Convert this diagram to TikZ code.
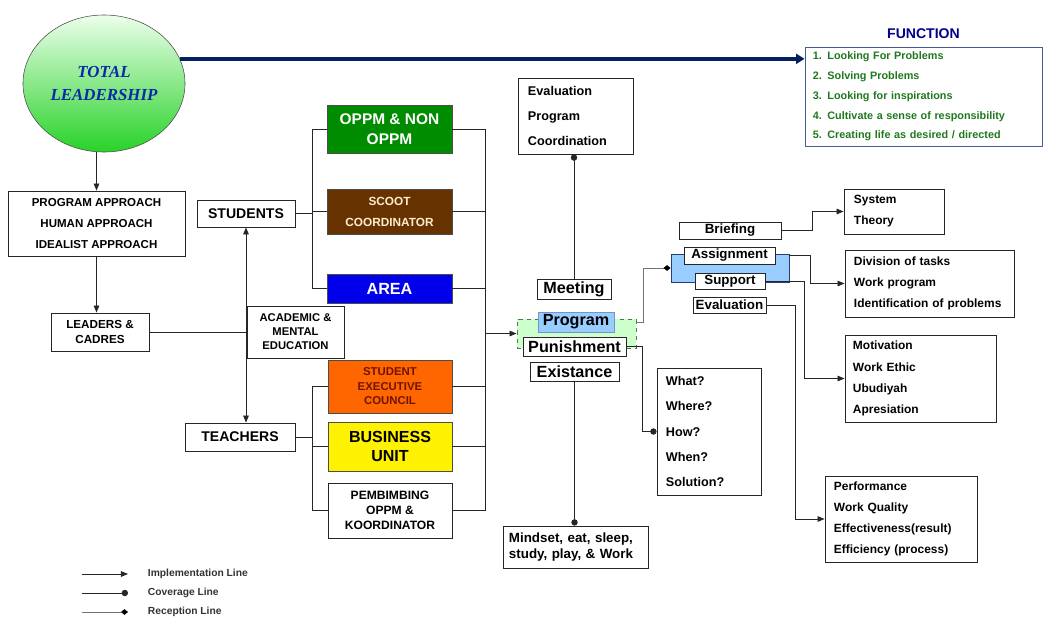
\documentclass[tikz,border=0pt]{standalone}
\usepackage{fontspec}
\setmainfont{Liberation Sans}
\newfontfamily\tlfont{Liberation Serif}
\usetikzlibrary{arrows.meta,shapes.geometric}

\definecolor{navyline}{RGB}{0,32,96}
\definecolor{functitle}{RGB}{0,0,140}
\definecolor{funcgreen}{RGB}{30,120,30}
\definecolor{funcborder}{RGB}{70,90,150}
\definecolor{tlblue}{RGB}{10,40,170}
\definecolor{oppmgreen}{RGB}{0,140,0}
\definecolor{scootbrown}{RGB}{102,51,0}
\definecolor{scoottext}{RGB}{255,235,205}
\definecolor{areablue}{RGB}{0,0,235}
\definecolor{secorange}{RGB}{255,102,0}
\definecolor{sectext}{RGB}{110,20,0}
\definecolor{progblue}{RGB}{153,204,255}
\definecolor{progborder}{RGB}{110,150,200}
\definecolor{asborder}{RGB}{40,60,120}
\definecolor{grpgreen}{RGB}{204,255,204}
\definecolor{grpborder}{RGB}{80,120,80}

\begin{document}
\begin{tikzpicture}[x=0.025cm,y=-0.025cm,>={Triangle[length=5pt,width=4pt]},
    box/.style={draw=black!85,line width=0.6pt,inner sep=0pt,align=center},
    lbox/.style={draw=black!85,line width=0.6pt,inner ysep=0pt,align=left},
    impl/.style={->,line width=0.6pt,black!85},
    cover/.style={-{Circle[length=4.5pt]},line width=0.6pt,black!85},
    recep/.style={-{Diamond[black,length=5pt,width=4pt]},line width=0.4pt,black!55},
    plain/.style={line width=0.6pt,black!85}]
%    \useasboundingbox[fill=white] (0,0) rectangle (1047,619);
    \useasboundingbox (0,0) rectangle (1047,619);

    \node[ellipse,draw=black!70,top color={rgb,255:red,235;green,255;blue,235},bottom color={rgb,255:red,40;green,210;blue,40},
          minimum width=4.05cm,minimum height=3.425cm,inner sep=0pt,align=center,text=tlblue,
          font=\tlfont\fontsize{12}{16}\selectfont\bfseries\itshape] (tl) at (104,83.5) {TOTAL\\LEADERSHIP};
    \node[font=\fontsize{10}{12}\selectfont\bfseries,text=functitle] (ftitle) at (923.5,33.5) {FUNCTION};
    \node[lbox,draw=funcborder,text=funcgreen,text width=5.525cm,inner xsep=0.2cm,minimum height=2.475cm,
          font=\fontsize{7.7}{14.1}\selectfont\bfseries] (func) at (923.5,96.5)
          {1. Looking For Problems\\2. Solving Problems\\3. Looking for inspirations\\4. Cultivate a sense of responsibility\\5. Creating life as desired / directed};

    % left column
    \node[box,minimum width=4.425cm,minimum height=1.625cm,font=\fontsize{8.2}{15}\selectfont\bfseries] (appr) at (96.5,223.5) {PROGRAM APPROACH\\HUMAN APPROACH\\IDEALIST APPROACH};
    \node[box,minimum width=2.45cm,minimum height=0.95cm,font=\fontsize{8.3}{10}\selectfont\bfseries]   (lead)  at (100,332)   {LEADERS \&\\CADRES};
    \node[box,minimum width=2.45cm,minimum height=0.675cm,font=\fontsize{10}{12}\selectfont\bfseries]   (stud)  at (246,213.5) {STUDENTS};
    \node[box,minimum width=2.425cm,minimum height=1.3cm,font=\fontsize{8}{10}\selectfont\bfseries]     (acad)  at (295.5,332) {ACADEMIC \&\\MENTAL\\EDUCATION};
    \node[box,minimum width=2.75cm,minimum height=0.7cm,font=\fontsize{10}{12}\selectfont\bfseries]     (teach) at (240,437)   {TEACHERS};

    % coloured boxes
    \node[box,draw=black!70,fill=oppmgreen,text=white,minimum width=3.125cm,minimum height=1.2cm,font=\fontsize{11}{14}\selectfont\bfseries]     (oppm)  at (389.5,129)   {OPPM \& NON\\OPPM};
    \node[box,draw=black!70,fill=scootbrown,text=scoottext,minimum width=3.125cm,minimum height=1.125cm,font=\fontsize{8.4}{15}\selectfont\bfseries] (scoot) at (389.5,211.5) {SCOOT\\COORDINATOR};
    \node[box,draw=black!70,fill=areablue,text=white,minimum width=3.125cm,minimum height=0.725cm,font=\fontsize{11.5}{14}\selectfont\bfseries]   (area)  at (389.5,288.5) {AREA};
    \node[box,draw=black!70,fill=secorange,text=sectext,minimum width=3.1cm,minimum height=1.325cm,font=\fontsize{8.1}{10.3}\selectfont\bfseries]  (sec)   at (390,386.5)   {STUDENT\\EXECUTIVE\\COUNCIL};
    \node[box,draw=black!70,fill=yellow,minimum width=3.1cm,minimum height=1.225cm,font=\fontsize{11.4}{14}\selectfont\bfseries]                   (bu)    at (390,446.5)   {BUSINESS\\UNIT};
    \node[box,minimum width=3.1cm,minimum height=1.375cm,font=\fontsize{8.6}{10.6}\selectfont\bfseries]                                            (pemb)  at (390,510.5)   {PEMBIMBING\\OPPM \&\\KOORDINATOR};

    % centre column
    \node[lbox,text width=2.375cm,inner xsep=0.25cm,minimum height=1.9cm,font=\fontsize{9}{17.7}\selectfont\bfseries] (evalc) at (575.5,116) {Evaluation\\Program\\Coordination};
    \node[box,minimum width=1.85cm,minimum height=0.5cm,font=\fontsize{11.5}{13}\selectfont\bfseries] (meet) at (574,289) {Meeting};
    \node[box,draw=grpborder,dashed,fill=grpgreen,minimum width=2.975cm,minimum height=0.725cm] (grp) at (576.5,333.5) {};
    \node[box,draw=progborder,fill=progblue,minimum width=1.9cm,minimum height=0.5cm,font=\fontsize{11.5}{13}\selectfont\bfseries] (prog) at (576,322) {Program};
    \node[box,fill=white,minimum width=2.575cm,minimum height=0.475cm,font=\fontsize{11.5}{13}\selectfont\bfseries] (pun) at (574.5,346.5) {Punishment};
    \node[box,fill=white,minimum width=2.225cm,minimum height=0.475cm,font=\fontsize{11.5}{13}\selectfont\bfseries] (exist) at (574.5,371.5) {Existance};
    \node[lbox,text width=3.325cm,inner xsep=0.15cm,minimum height=1.05cm,font=\fontsize{9.5}{12}\selectfont\bfseries] (mind) at (575.5,547) {Mindset, eat, sleep,\\study, play, \& Work};
    \node[lbox,text width=2.15cm,inner xsep=0.225cm,minimum height=3.175cm,font=\fontsize{9}{18}\selectfont\bfseries] (what) at (709,431.5) {What?\\Where?\\How?\\When?\\Solution?};

    % right column
    \node[box,minimum width=2.55cm,minimum height=0.425cm,font=\fontsize{9.5}{11}\selectfont\bfseries] (brief) at (730,230.5) {Briefing};
    \node[box,draw=asborder,fill=progblue,minimum width=2.95cm,minimum height=0.7cm] (asgrp) at (730,268) {};
    \node[box,fill=white,minimum width=2.275cm,minimum height=0.425cm,font=\fontsize{9.5}{11}\selectfont\bfseries] (assign) at (729.5,255.5) {Assignment};
    \node[box,fill=white,minimum width=1.75cm,minimum height=0.4cm,font=\fontsize{9.5}{11}\selectfont\bfseries] (supp) at (730,281) {Support};
    \node[box,minimum width=1.825cm,minimum height=0.4cm,font=\fontsize{9.5}{11}\selectfont\bfseries] (evalb) at (729.5,305) {Evaluation};
    \node[lbox,text width=2.0cm,inner xsep=0.25cm,minimum height=1.125cm,font=\fontsize{8.5}{15}\selectfont\bfseries] (sys) at (894,211.5) {System\\Theory};
    \node[lbox,text width=3.775cm,inner xsep=0.225cm,minimum height=1.675cm,font=\fontsize{8.5}{15}\selectfont\bfseries] (div) at (929.5,283.5) {Division of tasks\\Work program\\Identification of problems};
    \node[lbox,text width=3.375cm,inner xsep=0.2cm,minimum height=2.175cm,font=\fontsize{8.5}{15}\selectfont\bfseries] (motiv) at (920.5,378.5) {Motivation\\Work Ethic\\Ubudiyah\\Apresiation};
    \node[lbox,text width=3.35cm,inner xsep=0.225cm,minimum height=2.15cm,font=\fontsize{8.5}{15}\selectfont\bfseries] (perf) at (901,519) {Performance\\Work Quality\\Effectiveness(result)\\Efficiency (process)};

    % legend
    \coordinate (lg1) at (82,574);  \coordinate (lg1e) at (128,574);
    \coordinate (lg2) at (82,593);  \coordinate (lg2e) at (128,593);
    \coordinate (lg3) at (82,612);  \coordinate (lg3e) at (128,612);
    \node[anchor=west,font=\fontsize{7.3}{9}\selectfont\bfseries,text=black!80] (lgt1) at (143,574) {Implementation Line};
    \node[anchor=west,font=\fontsize{7.3}{9}\selectfont\bfseries,text=black!80] (lgt2) at (143,593) {Coverage Line};
    \node[anchor=west,font=\fontsize{7.3}{9}\selectfont\bfseries,text=black!80] (lgt3) at (143,612) {Reception Line};

    \coordinate (sbus) at (312,0);
    \coordinate (rbus) at (485,0);

    \draw[-{Triangle[length=6pt,width=7pt]},navyline,line width=2.8pt] (tl.18) -- (tl.18 -| func.west);
    \draw[impl] (tl.south -| appr.north) -- (appr.north);
    \draw[impl] (appr.south) -- (appr.south |- lead.north);
    \draw[plain] (lead.east) -- (acad.west);
    \draw[impl,<->] (stud.south) -- (stud.south |- teach.north);

    \draw[plain] (stud.east) -- (stud.east -| sbus);
    \draw[plain] (oppm.west -| sbus) -- (area.west -| sbus);
    \draw[plain] (teach.east) -- (teach.east -| sbus);
    \draw[plain] (sec.west -| sbus) -- (pemb.west -| sbus);
    \foreach \b in {oppm,scoot,area,sec,bu,pemb} {
      \draw[plain] (\b.west) -- (\b.west -| sbus);
      \draw[plain] (\b.east) -- (\b.east -| rbus);
    }
    \draw[plain] (oppm.east -| rbus) -- (pemb.east -| rbus);
    \draw[impl] (rbus |- grp.west) -- (grp.west);

    \draw[cover] (meet.north) -- (meet.north |- evalc.south);
    \draw[cover] (exist.south) -- (exist.south |- mind.north);
    \draw[cover] (pun.east) -- ++(16,0) |- (what.west);
    \draw[recep] (grp.east |- prog.east) -- ++(7,0) |- (asgrp.west);

    \draw[impl] (brief.east) -- ++(31,0) |- (sys.west);
    \draw[impl] (asgrp.east |- assign.east) -- ++(21,0) |- (div.west);
    \draw[impl] (supp.east) -- ++(39,0) |- (motiv.west);
    \draw[impl] (evalb.east) -- ++(29,0) |- (perf.west);

    \draw[impl] (lg1) -- (lg1e);
    \draw[cover] (lg2) -- (lg2e);
    \draw[recep] (lg3) -- (lg3e);
\end{tikzpicture}
\end{document}
